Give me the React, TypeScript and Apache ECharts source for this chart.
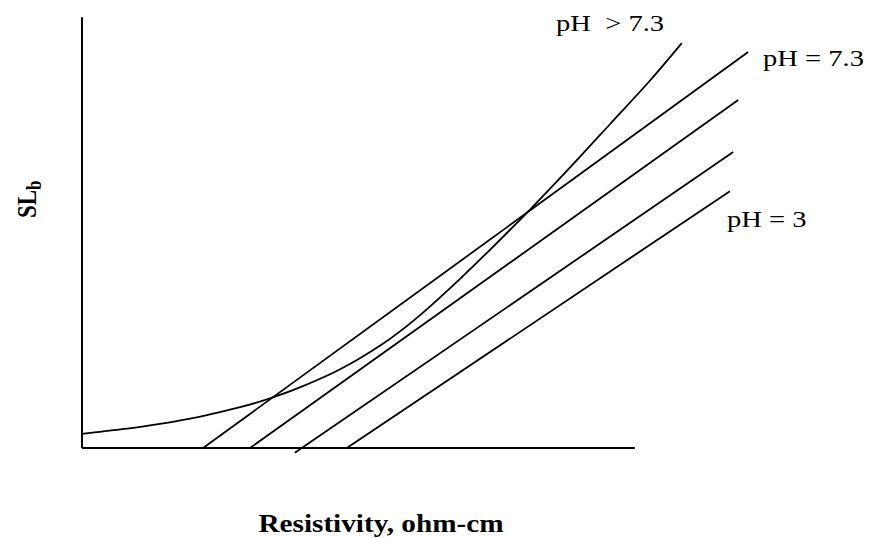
import React, { useEffect, useRef } from "react";
import * as echarts from "echarts";

// Straight lines (x, y) in arbitrary chart units
const lineA: number[][] = [[2.19, 0], [12.05, 9.81]]; // pH = 7.3
const lineB: number[][] = [[3.04, 0], [11.87, 8.62]];
const lineC: number[][] = [[3.85, -0.12], [11.78, 7.33]];
const lineD: number[][] = [[4.79, 0], [11.72, 6.36]]; // pH = 3
// Curve pH > 7.3
const curveX: number[] = [0, 0.69, 1.41, 2.14, 2.86, 3.4, 3.94, 4.67, 5.45, 6.02, 6.66, 7.38, 8.1, 8.83, 9.55, 10.28, 10.85];
const curveY: number[] = [0.35, 0.46, 0.6, 0.78, 1.01, 1.23, 1.5, 1.95, 2.59, 3.18, 3.96, 4.91, 5.9, 6.95, 8.02, 9.11, 10.03];
// Axis lines
const xAxisLine: number[][] = [[0, 0], [10, 0]];
const yAxisLine: number[][] = [[0, 0], [0, 10.67]];

const labels = ["pH  > 7.3", "pH = 7.3", "pH = 3"];
const xTitle = "Resistivity, ohm-cm";

const SERIF = "'Liberation Serif', 'Times New Roman', serif";

export default function App() {
  const ref = useRef<HTMLDivElement>(null);
  useEffect(() => {
    if (!ref.current) return;
    const chart = echarts.init(ref.current, null, { renderer: "svg" });
    const mk = (data: number[][], w = 1.8) => ({
      type: "line",
      data,
      showSymbol: false,
      symbol: "none",
      clip: false,
      silent: true,
      lineStyle: { color: "#000", width: w },
    });
    const txt = (text: string, x: number, y: number) => ({
      type: "text",
      x,
      y,
      scaleX: 1.19,
      style: { text, fontFamily: SERIF, fontSize: 24, fill: "#000", align: "left", verticalAlign: "middle" },
    });
    chart.setOption({
      animation: false,
      backgroundColor: "#fff",
      grid: { left: 82, right: 97, top: 10, bottom: 90 },
      xAxis: { type: "value", min: 0, max: 12.5, show: false },
      yAxis: { type: "value", min: 0, max: 10.85, show: false },
      series: [
        mk(xAxisLine, 2),
        mk(yAxisLine, 2),
        mk(lineA),
        mk(lineB),
        mk(lineC),
        mk(lineD),
        { ...mk(curveX.map((x, i) => [x, curveY[i]])), smooth: 0.3 },
      ],
      graphic: [
        txt(labels[0], 556, 23),
        txt(labels[1], 763, 58),
        txt(labels[2], 727, 219),
        {
          type: "text",
          x: 381,
          y: 523.5,
          scaleX: 1.17,
          style: { text: xTitle, fontFamily: SERIF, fontSize: 25, fontWeight: "bold", fill: "#000", align: "center", verticalAlign: "middle" },
        },
        {
          type: "group",
          x: 36,
          y: 218,
          rotation: Math.PI / 2,
          scaleY: 1.22,
          children: [
            {
              type: "text",
              x: 0,
              y: -7.8,
              style: { text: "SL", fontFamily: SERIF, fontSize: 23, fontWeight: "bold", fill: "#000", align: "left", verticalAlign: "middle" },
            },
            {
              type: "text",
              x: 28,
              y: -1.5,
              style: { text: "b", fontFamily: SERIF, fontSize: 17, fontWeight: "bold", fill: "#000", align: "left", verticalAlign: "middle" },
            },
          ],
        },
      ],
    });
    return () => chart.dispose();
  }, []);
  return <div ref={ref} style={{ width: 870, height: 538, position: "absolute", left: 0, top: 0 }} />;
}
